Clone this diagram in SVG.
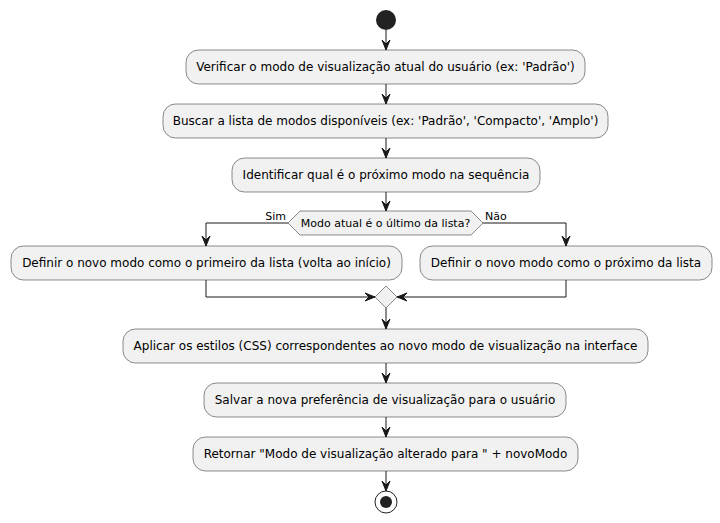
<svg xmlns="http://www.w3.org/2000/svg" width="720" height="523" viewBox="0 0 720 523">
<style>
.box{fill:#F1F1F1;stroke:#181818;stroke-width:0.5}
.t{font-family:"DejaVu Sans",sans-serif;font-size:12px;fill:#000;text-anchor:middle}
.s{font-family:"DejaVu Sans",sans-serif;font-size:11px;fill:#000}
.ln{fill:none;stroke:#181818;stroke-width:1}
.ah{fill:#181818;stroke:#181818;stroke-width:1}
</style>
<rect width="720" height="523" fill="#FFFFFF"/>
<g id="start"><circle cx="386" cy="20" r="10" fill="#222222"/></g>
<g id="n1"><rect class="box" x="186" y="50" width="399" height="34" rx="12.5"/><text class="t" x="385.5" y="71">Verificar o modo de visualização atual do usuário (ex: 'Padrão')</text></g>
<g id="n2"><rect class="box" x="163" y="104" width="445" height="34" rx="12.5"/><text class="t" x="385.5" y="125">Buscar a lista de modos disponíveis (ex: 'Padrão', 'Compacto', 'Amplo')</text></g>
<g id="n3"><rect class="box" x="232" y="158" width="308" height="34" rx="12.5"/><text class="t" x="386" y="179">Identificar qual é o próximo modo na sequência</text></g>
<g id="d1"><polygon class="box" points="288,223 300,211 471,211 483,223 471,235 300,235"/><text class="s" x="385.5" y="227" text-anchor="middle">Modo atual é o último da lista?</text></g>
<g id="n4"><rect class="box" x="11" y="246" width="391" height="34" rx="12.5"/><text class="t" x="206.5" y="267">Definir o novo modo como o primeiro da lista (volta ao início)</text></g>
<g id="n5"><rect class="box" x="420" y="246" width="292" height="34" rx="12.5"/><text class="t" x="566" y="267">Definir o novo modo como o próximo da lista</text></g>
<g id="merge"><polygon class="box" points="386,286 397,297 386,308 375,297"/></g>
<g id="n6"><rect class="box" x="123" y="329" width="525" height="34" rx="12.5"/><text class="t" x="385.5" y="350">Aplicar os estilos (CSS) correspondentes ao novo modo de visualização na interface</text></g>
<g id="n7"><rect class="box" x="204" y="383" width="362" height="34" rx="12.5"/><text class="t" x="385" y="404">Salvar a nova preferência de visualização para o usuário</text></g>
<g id="n8"><rect class="box" x="193" y="437" width="385" height="34" rx="12.5"/><text class="t" x="385.5" y="458">Retornar "Modo de visualização alterado para " + novoModo</text></g>
<g id="end"><circle cx="386" cy="502" r="11" fill="none" stroke="#222222" stroke-width="1"/><circle cx="386" cy="502" r="6" fill="#222222"/></g>
<g id="connectors">
<path class="ln" d="M386,30 V50"/><polygon class="ah" points="382,40 386,50 390,40 386,44"/>
<path class="ln" d="M386,84 V104"/><polygon class="ah" points="382,94 386,104 390,94 386,98"/>
<path class="ln" d="M386,138 V158"/><polygon class="ah" points="382,148 386,158 390,148 386,152"/>
<path class="ln" d="M386,192 V211"/><polygon class="ah" points="382,201 386,211 390,201 386,205"/>
<path class="ln" d="M288,223 H206 V246"/><polygon class="ah" points="202,236 206,246 210,236 206,240"/>
<text class="s" x="286" y="220" text-anchor="end">Sim</text>
<path class="ln" d="M483,223 H566 V246"/><polygon class="ah" points="562,236 566,246 570,236 566,240"/>
<text class="s" x="485" y="220">Não</text>
<path class="ln" d="M206,280 V297 H375"/><polygon class="ah" points="365,293 375,297 365,301 369,297"/>
<path class="ln" d="M566,280 V297 H397"/><polygon class="ah" points="407,293 397,297 407,301 403,297"/>
<path class="ln" d="M386,308 V329"/><polygon class="ah" points="382,319 386,329 390,319 386,323"/>
<path class="ln" d="M386,363 V383"/><polygon class="ah" points="382,373 386,383 390,373 386,377"/>
<path class="ln" d="M386,417 V437"/><polygon class="ah" points="382,427 386,437 390,427 386,431"/>
<path class="ln" d="M386,471 V491"/><polygon class="ah" points="382,481 386,491 390,481 386,485"/>
</g>
</svg>
